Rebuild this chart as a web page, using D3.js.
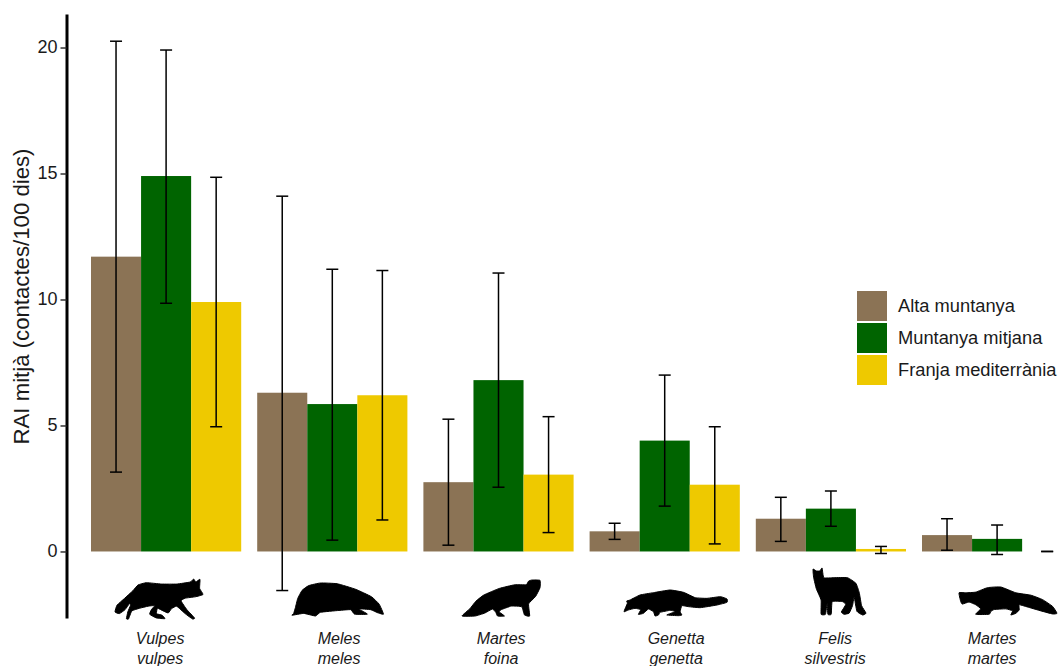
<!DOCTYPE html>
<html>
<head>
<meta charset="utf-8">
<script src="https://cdn.jsdelivr.net/npm/d3@7"></script>
<style>
html,body{margin:0;padding:0;background:#fff;}
svg{display:block;}
text{font-family:"Liberation Sans",Arial,sans-serif;fill:#1a1a1a;}
</style>
</head>
<body>
<svg id="chart" width="1061" height="666"></svg>
<script>
var species=["Vulpes vulpes","Meles meles","Martes foina","Genetta genetta","Felis silvestris","Martes martes"];
var zones=["Alta muntanya","Muntanya mitjana","Franja mediterrània"];
var zoneColors=["#8b7355","#006400","#eec900"];
var tickValues=[0,5,10,15,20];

var altaMean=[11.7,6.3,2.75,0.8,1.3,0.65];
var altaLow=[3.15,-1.55,0.25,0.48,0.4,0.05];
var altaHigh=[20.25,14.1,5.25,1.12,2.15,1.3];

var mitjanaMean=[14.9,5.85,6.8,4.4,1.7,0.5];
var mitjanaLow=[9.85,0.45,2.55,1.8,1.0,-0.12];
var mitjanaHigh=[19.9,11.2,11.05,7.0,2.4,1.05];

var franjaMean=[9.9,6.2,3.05,2.65,0.1,0];
var franjaLow=[4.95,1.25,0.75,0.3,-0.08,0];
var franjaHigh=[14.85,11.15,5.35,4.95,0.2,0];

var means=[altaMean,mitjanaMean,franjaMean];
var lows=[altaLow,mitjanaLow,franjaLow];
var highs=[altaHigh,mitjanaHigh,franjaHigh];

// silhouette outlines; box = x0,x1,y0,y1 each one is fitted into
var shapes=[
 {box:[115,203,579,619],pts:[[293,73],[283,55],[284,28],[272,36],[265,27],[255,36],[215,42],[170,42],[125,38],[100,45],[85,62],[60,85],[38,105],[32,125],[45,130],[62,118],[75,100],[78,105],[70,125],[66,145],[72,146],[82,122],[105,114],[130,108],[150,106],[140,118],[135,132],[155,143],[180,145],[172,135],[155,130],[158,114],[175,122],[190,128],[200,115],[215,108],[240,130],[262,146],[268,143],[245,118],[228,92],[240,84],[270,80]]},
 {box:[292,383.5,583,616],pts:[[298,112],[285,85],[262,65],[215,45],[160,30],[110,28],[75,35],[55,48],[42,70],[35,95],[30,110],[25,115],[60,110],[95,117],[110,107],[165,102],[200,100],[212,112],[250,112],[225,98],[260,100],[280,108]]},
 {box:[462,540,580,616],pts:[[248,28],[225,27],[215,30],[208,40],[175,40],[130,50],[85,68],[62,85],[45,105],[22,125],[60,125],[88,117],[110,106],[120,115],[125,125],[145,125],[130,114],[135,108],[165,98],[195,100],[203,122],[218,125],[215,92],[235,72],[248,48]]},
 {box:[624,727,590,616],pts:[[12,90],[22,65],[20,58],[30,55],[60,40],[100,33],[150,25],[190,32],[225,48],[260,50],[300,45],[320,52],[320,62],[290,70],[240,78],[205,75],[185,72],[180,90],[185,100],[175,102],[140,100],[165,90],[150,86],[120,92],[115,100],[105,103],[100,90],[85,82],[70,95],[55,98],[62,84],[45,80],[25,85]]},
 {box:[813,866,568,615],pts:[[28,17],[38,22],[48,22],[55,14],[60,40],[90,40],[130,40],[155,55],[165,80],[172,115],[185,135],[175,140],[158,130],[150,92],[145,115],[135,135],[120,138],[112,132],[125,112],[115,104],[85,104],[82,138],[72,138],[70,108],[65,138],[52,138],[52,100],[38,70],[30,40]]},
 {box:[959,1057,587,615],pts:[[25,35],[45,35],[75,33],[110,20],[150,18],[195,35],[240,42],[275,55],[305,75],[318,95],[305,97],[270,88],[235,78],[205,70],[205,85],[195,95],[180,100],[185,88],[165,82],[130,84],[120,90],[115,98],[75,98],[90,82],[75,70],[55,62],[35,68],[30,60]]}
];
var labelNudge=[-6,6.8,2.6,11.4,4.2,-5];

var svg=d3.select("#chart");

var x=d3.scaleBand().domain(species).range([91,1072.2]).paddingInner(16/166.2);
var xZone=d3.scaleBand().domain(zones).range([0,x.bandwidth()]);
var y=d3.scaleLinear().domain([-2.64,21.33]).range([618,14]);
var color=d3.scaleOrdinal().domain(zones).range(zoneColors);

var rows=[];
zones.forEach(function(z,i){
    species.forEach(function(s,k){
        rows.push({species:s,zone:z,mean:means[i][k],low:lows[i][k],high:highs[i][k]});
    });
});

// bars
svg.append("g").selectAll("rect")
    .data(rows)
    .enter().append("rect")
    .attr("x",function(d){return x(d.species)+xZone(d.zone);})
    .attr("width",xZone.bandwidth())
    .attr("y",function(d){return y(Math.max(d.mean,0));})
    .attr("height",function(d){return Math.abs(y(d.mean)-y(0));})
    .attr("fill",function(d){return color(d.zone);});

// error bars
var capHalf=6;
var err=svg.append("g").selectAll("g")
    .data(rows)
    .enter().append("g")
    .attr("transform",function(d){return "translate("+(x(d.species)+xZone(d.zone)+xZone.bandwidth()/2)+",0)";})
    .attr("stroke","#000")
    .attr("stroke-width",1.5);
err.append("line")
    .attr("y1",function(d){return y(d.low);})
    .attr("y2",function(d){return y(d.high);});
err.append("line")
    .attr("x1",-capHalf).attr("x2",capHalf)
    .attr("y1",function(d){return y(d.low);})
    .attr("y2",function(d){return y(d.low);});
err.append("line")
    .attr("x1",-capHalf).attr("x2",capHalf)
    .attr("y1",function(d){return y(d.high);})
    .attr("y2",function(d){return y(d.high);});

// y axis
var axis=svg.append("g")
    .attr("transform","translate(66.5,0)")
    .call(d3.axisLeft(y).tickValues(tickValues).tickSize(6).tickSizeOuter(0));
axis.select(".domain").attr("stroke","#000").attr("stroke-width",3);
axis.selectAll(".tick line").attr("stroke","#333").attr("stroke-width",1.5);
axis.selectAll(".tick text")
    .attr("x",-9)
    .attr("dy","0.3em")
    .style("font-size","18px")
    .style("font-family",'"Liberation Sans",Arial,sans-serif')
    .style("fill","#1a1a1a");

svg.append("text")
    .attr("transform","translate(29,296.5) rotate(-90)")
    .attr("text-anchor","middle")
    .style("font-size","22.2px")
    .text("RAI mitjà (contactes/100 dies)");

// animal silhouettes
var outline=d3.line().curve(d3.curveCardinalClosed.tension(0.6));
function fitted(d){
    var sx=d3.scaleLinear().domain(d3.extent(d.pts,function(p){return p[0];})).range([d.box[0],d.box[1]]);
    var sy=d3.scaleLinear().domain(d3.extent(d.pts,function(p){return p[1];})).range([d.box[2],d.box[3]]);
    return outline(d.pts.map(function(p){return [sx(p[0]),sy(p[1])];}));
}
svg.append("g").selectAll("path")
    .data(shapes)
    .enter().append("path")
    .attr("d",fitted)
    .attr("fill","#000")
    .attr("stroke","#000")
    .attr("stroke-width",1)
    .attr("stroke-linejoin","round");

// species labels, two lines
var labels=svg.append("g").selectAll("text")
    .data(species)
    .enter().append("text")
    .attr("text-anchor","middle")
    .style("font-size","16px")
    .style("font-style","italic");
labels.append("tspan")
    .attr("x",function(d,i){return x(d)+x.bandwidth()/2+labelNudge[i];})
    .attr("y",644)
    .text(function(d){return d.split(" ")[0];});
labels.append("tspan")
    .attr("x",function(d,i){return x(d)+x.bandwidth()/2+labelNudge[i];})
    .attr("y",664)
    .text(function(d){return d.split(" ")[1];});

// legend
var legend=svg.append("g").attr("transform","translate(857,291)")
    .selectAll("g")
    .data(zones)
    .enter().append("g")
    .attr("transform",function(d,i){return "translate(0,"+(i*32)+")";});
legend.append("rect")
    .attr("width",30)
    .attr("height",30)
    .attr("fill",function(d){return color(d);});
legend.append("text")
    .attr("x",41)
    .attr("y",15)
    .attr("dy","0.35em")
    .style("font-size","18.3px")
    .text(function(d){return d;});
</script>
</body>
</html>
